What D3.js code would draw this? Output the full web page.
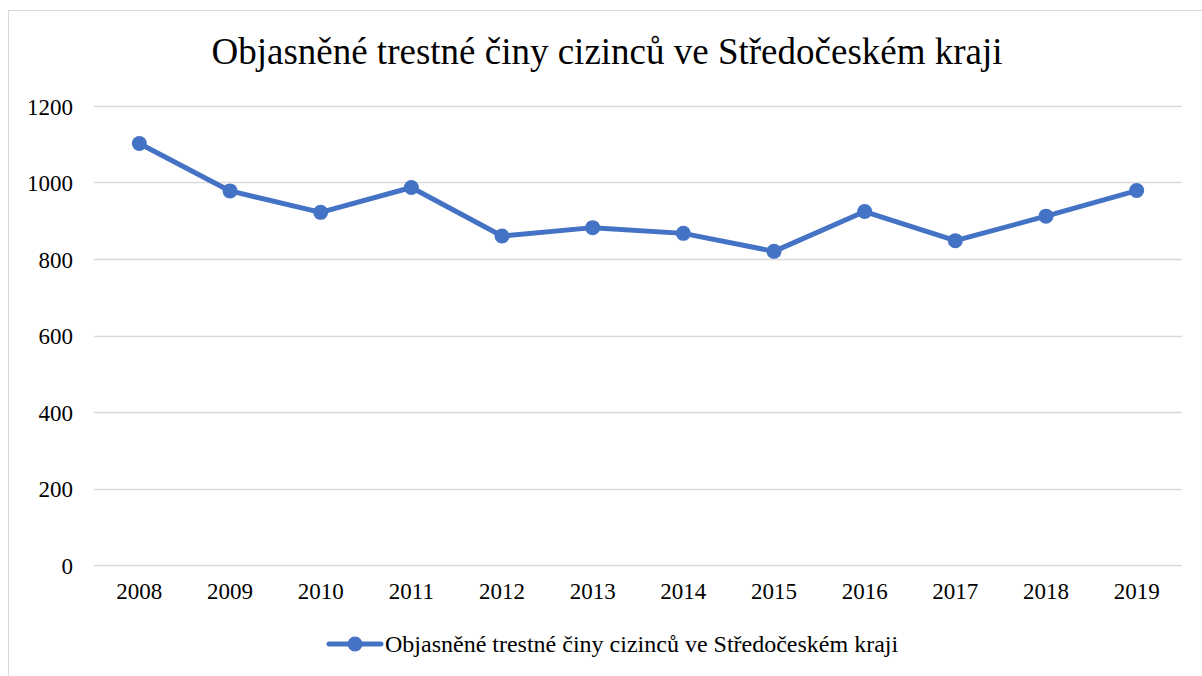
<!DOCTYPE html>
<html>
<head>
<meta charset="utf-8">
<script src="https://cdn.jsdelivr.net/npm/d3@7"></script>
<style>
  body { margin: 0; background: #fff; }
  svg text { font-family: "Liberation Serif", "Times New Roman", serif; fill: #000; }
</style>
</head>
<body>
<div id="chart"></div>
<script>
// data
const years = ["2008", "2009", "2010", "2011", "2012", "2013", "2014", "2015", "2016", "2017", "2018", "2019"];
const values = [1102, 978, 922, 987, 860, 882, 867, 820, 924, 848, 912, 979];
const yTicks = [0, 200, 400, 600, 800, 1000, 1200];
const title = "Objasněné trestné činy cizinců ve Středočeském kraji";
const seriesName = "Objasněné trestné činy cizinců ve Středočeském kraji";

const W = 1202, H = 676;
const margin = {top: 106, right: 20, bottom: 111, left: 94};
const width = 1182 - margin.left;
const height = 565 - margin.top;
const blue = "#4472C4";
const serif = '"Liberation Serif", "Times New Roman", serif';

const svg = d3.select("#chart").append("svg")
    .attr("width", W)
    .attr("height", H);

// chart border (cut by the picture edge)
svg.append("rect")
    .attr("x", 8.5).attr("y", 10.5)
    .attr("width", W).attr("height", H)
    .attr("fill", "none")
    .attr("stroke", "#d9d9d9");

svg.append("text")
    .attr("x", 607).attr("y", 64)
    .attr("text-anchor", "middle")
    .style("font-family", serif)
    .style("font-size", "37px")
    .text(title);

const g = svg.append("g")
    .attr("transform", "translate(" + margin.left + "," + margin.top + ")");

const x = d3.scaleBand().domain(years).range([0, width]);
const y = d3.scaleLinear().domain([0, 1200]).range([height, 0]);

// gridlines
g.append("g")
    .selectAll("line")
    .data(yTicks)
    .enter().append("line")
    .attr("x1", 0).attr("x2", width)
    .attr("y1", d => Math.round(y(d)) + 0.5)
    .attr("y2", d => Math.round(y(d)) + 0.5)
    .attr("stroke", "#d9d9d9")
    .attr("stroke-width", 1.3);

// y axis
const yAxis = d3.axisLeft(y).tickValues(yTicks).tickFormat(d3.format("d")).tickSize(0).tickPadding(21);
g.append("g").call(yAxis)
    .attr("font-family", null)
    .call(s => s.select(".domain").remove())
    .selectAll("text")
    .style("font-family", serif)
    .style("font-size", "23px")
    .attr("dy", "0.35em");

// x axis
const xAxis = d3.axisBottom(x).tickSize(0).tickPadding(18);
g.append("g")
    .attr("transform", "translate(0," + height + ")")
    .call(xAxis)
    .attr("font-family", null)
    .call(s => s.select(".domain").remove())
    .selectAll("text")
    .style("font-family", serif)
    .style("font-size", "23px");

// line + markers
const line = d3.line()
    .x((d, i) => x(years[i]) + x.bandwidth() / 2)
    .y(d => y(d));

g.append("path")
    .datum(values)
    .attr("d", line)
    .attr("fill", "none")
    .attr("stroke", blue)
    .attr("stroke-width", 5)
    .attr("stroke-linejoin", "round")
    .attr("stroke-linecap", "round");

g.selectAll(".dot")
    .data(values)
    .enter().append("circle")
    .attr("class", "dot")
    .attr("cx", (d, i) => x(years[i]) + x.bandwidth() / 2)
    .attr("cy", d => y(d))
    .attr("r", 7.5)
    .attr("fill", blue);

// legend
const leg = svg.append("g").attr("transform", "translate(0,644)");
leg.append("line")
    .attr("x1", 329).attr("x2", 381)
    .attr("y1", 0).attr("y2", 0)
    .attr("stroke", blue)
    .attr("stroke-width", 5)
    .attr("stroke-linecap", "round");
leg.append("circle")
    .attr("cx", 355).attr("cy", 0).attr("r", 7.5)
    .attr("fill", blue);
leg.append("text")
    .attr("x", 385).attr("y", 8)
    .style("font-family", serif)
    .style("font-size", "24px")
    .text(seriesName);
</script>
</body>
</html>
